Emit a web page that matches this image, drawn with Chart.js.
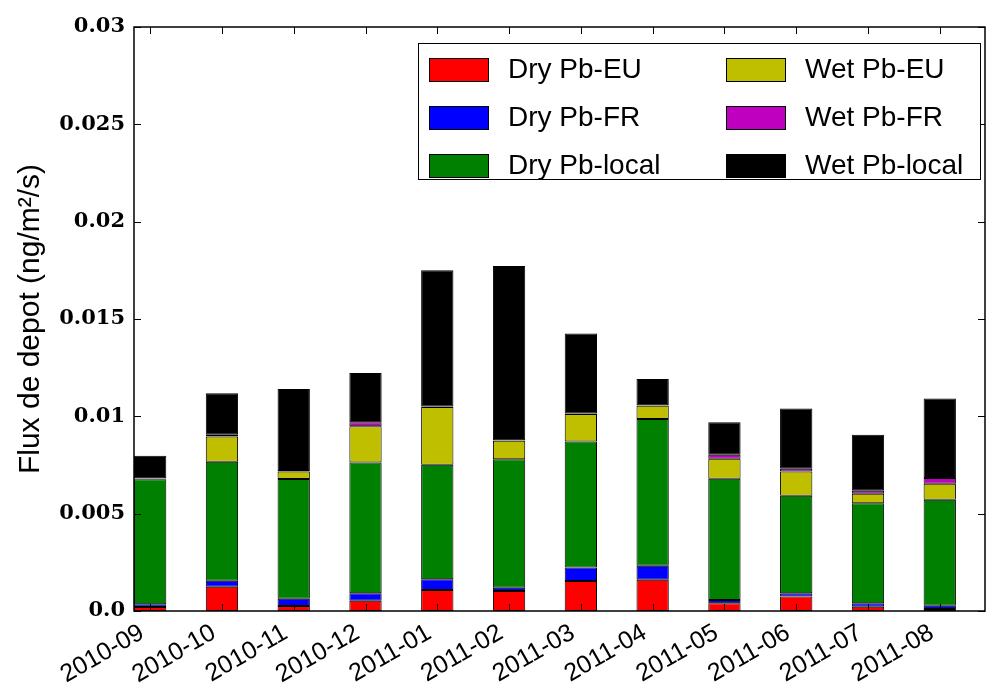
<!DOCTYPE html>
<html>
<head>
<meta charset="utf-8">
<script src="https://cdn.jsdelivr.net/npm/chart.js@4.4.0/dist/chart.umd.min.js"></script>
<style>
  html, body { margin: 0; padding: 0; background: #fff; }
  #wrap { width: 986px; height: 689px; position: relative; }
</style>
</head>
<body>
<div id="wrap"><canvas id="chart"></canvas></div>
<script>
// monthly deposition flux, ng/m2/s
const months = ['2010-09', '2010-10', '2010-11', '2010-12', '2011-01', '2011-02',
                '2011-03', '2011-04', '2011-05', '2011-06', '2011-07', '2011-08'];
const dryEU    = [0.00020, 0.00125, 0.00026, 0.00053, 0.00108, 0.00103, 0.00154, 0.00160, 0.00040, 0.00074, 0.00022, 0.00010];
const dryFR    = [0.00015, 0.00030, 0.00037, 0.00038, 0.00055, 0.00017, 0.00069, 0.00073, 0.00017, 0.00017, 0.00018, 0.00017];
const dryLocal = [0.00642, 0.00612, 0.00615, 0.00672, 0.00588, 0.00660, 0.00648, 0.00753, 0.00622, 0.00501, 0.00514, 0.00544];
const wetEU    = [0.00003, 0.00129, 0.00039, 0.00186, 0.00297, 0.00095, 0.00141, 0.00069, 0.00103, 0.00125, 0.00048, 0.00083];
const wetFR    = [0.00002, 0.00010, 0.00002, 0.00020, 0.00003, 0.00002, 0.00002, 0.00002, 0.00021, 0.00014, 0.00016, 0.00029];
const wetLocal = [0.00116, 0.00213, 0.00422, 0.00254, 0.00699, 0.00895, 0.00411, 0.00135, 0.00166, 0.00309, 0.00288, 0.00408];
const yTickLabels = ['0.0', '0.005', '0.01', '0.015', '0.02', '0.025', '0.03'];

const seriesNames = ['Dry Pb-EU', 'Dry Pb-FR', 'Dry Pb-local', 'Wet Pb-EU', 'Wet Pb-FR', 'Wet Pb-local'];
const seriesData = [dryEU, dryFR, dryLocal, wetEU, wetFR, wetLocal];
const seriesColors = ['#ff0000', '#0000ff', '#008000', '#bfbf00', '#bf00bf', '#000000'];

const datasets = seriesData.map((vals, k) => ({
  label: seriesNames[k],
  data: vals.map((v, i) => ({ x: i, y: v })),
  backgroundColor: seriesColors[k],
  borderColor: '#000',
  borderWidth: 1,
  borderSkipped: false,
  barPercentage: 0.45,
  categoryPercentage: 1.0
}));

// frame + inward ticks, matplotlib style
const framePlugin = {
  id: 'frame',
  afterDatasetsDraw(chart) {
    const ctx = chart.ctx, a = chart.chartArea;
    ctx.save();
    ctx.strokeStyle = '#000';
    ctx.lineWidth = 1;
    ctx.beginPath();
    chart.scales.y.ticks.forEach(t => {
      const py = Math.round(chart.scales.y.getPixelForValue(t.value)) + 0.5;
      ctx.moveTo(a.left, py); ctx.lineTo(a.left + 7, py);
      ctx.moveTo(a.right, py); ctx.lineTo(a.right - 7, py);
    });
    chart.scales.x.ticks.forEach(t => {
      const px = Math.round(chart.scales.x.getPixelForValue(t.value)) + 0.5;
      ctx.moveTo(px, a.bottom); ctx.lineTo(px, a.bottom - 7);
      ctx.moveTo(px, a.top); ctx.lineTo(px, a.top + 7);
    });
    ctx.stroke();
    ctx.lineWidth = 1.5;
    ctx.strokeRect(a.left, a.top, a.right - a.left, a.bottom - a.top);
    ctx.restore();
  }
};

// legend in the upper right of the plot, two columns
const legendPlugin = {
  id: 'insideLegend',
  afterDraw(chart) {
    const ctx = chart.ctx;
    const x0 = 418, y0 = 43, w = 562, h = 136;
    ctx.save();
    ctx.fillStyle = '#fff';
    ctx.fillRect(x0, y0, w, h);
    ctx.strokeStyle = '#000';
    ctx.lineWidth = 1;
    ctx.strokeRect(x0 + 0.5, y0 + 0.5, w, h);
    ctx.font = '28px "Liberation Sans", Arial, sans-serif';
    ctx.textBaseline = 'middle';
    chart.data.datasets.forEach((ds, k) => {
      const col = Math.floor(k / 3), row = k % 3;
      const sx = x0 + 11 + col * 297;
      const cy = y0 + 26 + row * 48;
      ctx.fillStyle = ds.backgroundColor;
      ctx.fillRect(sx, cy - 11, 59, 23);
      ctx.strokeRect(sx + 0.5, cy - 10.5, 59, 23);
      ctx.fillStyle = '#000';
      ctx.fillText(ds.label, sx + 79, cy + 1);
    });
    ctx.restore();
  }
};

new Chart(document.getElementById('chart'), {
  type: 'bar',
  data: { datasets },
  options: {
    responsive: true,
    maintainAspectRatio: false,
    animation: false,
    layout: { padding: { top: 27, right: 1, left: 0, bottom: 0 } },
    plugins: { legend: { display: false }, tooltip: { enabled: false } },
    scales: {
      x: {
        type: 'linear',
        stacked: true,
        offset: false,
        min: -0.225,
        max: 11.63,
        grid: { display: false, drawTicks: false },
        border: { display: false },
        afterFit: s => { s.height = 78; },
        ticks: {
          stepSize: 1,
          includeBounds: false,
          autoSkip: false,
          minRotation: 30,
          maxRotation: 30,
          padding: 7,
          labelOffset: -8,
          color: '#000',
          font: { family: '"Liberation Sans", Arial, sans-serif', size: 25 },
          callback: v => months[v]
        }
      },
      y: {
        stacked: true,
        min: 0,
        max: 0.03,
        grid: { display: false, drawTicks: false },
        border: { display: false },
        afterFit: s => { s.width = 134; },
        ticks: {
          stepSize: 0.005,
          padding: 9,
          color: '#000',
          font: { family: '"DejaVu Serif", serif', size: 21, weight: 'bold' },
          callback: (v, i) => yTickLabels[i]
        },
        title: {
          display: true,
          text: 'Flux de depot (ng/m\u00b2/s)',
          color: '#000',
          padding: { top: 13, bottom: 0 },
          font: { family: '"Liberation Sans", Arial, sans-serif', size: 30 }
        }
      }
    }
  },
  plugins: [framePlugin, legendPlugin]
});
</script>
</body>
</html>
